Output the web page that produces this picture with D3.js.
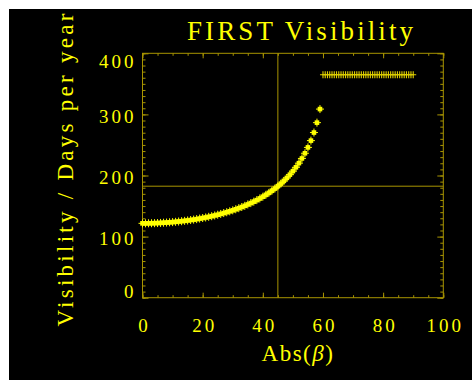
<!DOCTYPE html>
<meta charset="utf-8">
<script src="https://d3js.org/d3.v7.min.js"></script>
<style>
  svg text { font-family: "Liberation Serif", "DejaVu Serif", serif; }
</style>
<body style="margin:0;background:#fff;">
<div id="chart"></div>
<script>

// data
var curveBeta = [0,1,2,3,4,5,6,7,8,9,10,11,12,13,14,15,16,17,18,19,20,21,22,23,24,25,26,27,28,29,
  30,31,32,33,34,35,36,37,38,39,40,41,42,43,44,45,46,47,48,49,50,51,52,53,54,55,56,57,58,59];
var curveDays = [121.7,121.7,121.8,121.9,122.0,122.2,122.4,122.7,123.0,123.4,
  123.7,124.2,124.7,125.2,125.8,126.4,127.1,127.8,128.6,129.5,
  130.4,131.3,132.4,133.4,134.6,135.8,137.1,138.5,139.9,141.4,
  143.0,144.7,146.5,148.4,150.4,152.6,154.8,157.2,159.7,162.4,
  165.2,168.3,171.5,175.0,178.6,182.5,186.7,191.2,196.1,201.4,
  207.1,213.4,220.2,227.9,236.4,246.0,257.1,270.3,286.5,308.7];
var flatBeta = [60,60.75,61.5,62.25,63,63.75,64.5,65.25,66,66.75,67.5,68.25,69,69.75,70.5,71.25,
  72,72.75,73.5,74.25,75,75.75,76.5,77.25,78,78.75,79.5,80.25,81,81.75,82.5,83.25,
  84,84.75,85.5,86.25,87,87.75,88.5,89.25,90];
var flatDays = [365,365,365,365,365,365,365,365,365,365,365,365,365,365,365,365,
  365,365,365,365,365,365,365,365,365,365,365,365,365,365,365,365,
  365,365,365,365,365,365,365,365,365];
var xTicks = [0,20,40,60,80,100];
var yTicks = [0,100,200,300,400];
var refBeta = 45, refDays = 182.5;

var W = 472, H = 381;
var box = {left: 142.5, right: 443.3, top: 53.3, bottom: 297.7};
var yellow = "#ffff00", olive = "#a89400";

var svg = d3.select("#chart").append("svg")
  .attr("width", W).attr("height", H);

svg.append("rect").attr("x", 9).attr("y", 9)
  .attr("width", W - 9).attr("height", H - 10).attr("fill", "#000");

var x = d3.scaleLinear().domain([0, 100]).range([box.left, box.right]);
var y = d3.scaleLinear().domain([0, 400]).range([box.bottom, box.top]);

// axes, ticks pointing inward on all four sides
function styleAxis(g) {
  g.select(".domain").remove();
  g.selectAll("line").attr("stroke", olive);
}
var minorX = d3.range(0, 101, 5), minorY = d3.range(0, 401, 10);

svg.append("g").attr("transform", "translate(0," + box.bottom + ")")
  .call(d3.axisBottom(x).tickValues(minorX).tickSize(-2.5).tickFormat(""))
  .call(styleAxis);
svg.append("g").attr("transform", "translate(0," + box.top + ")")
  .call(d3.axisTop(x).tickValues(minorX).tickSize(-2.5).tickFormat(""))
  .call(styleAxis);
svg.append("g").attr("transform", "translate(" + box.left + ",0)")
  .call(d3.axisLeft(y).tickValues(minorY).tickSize(-3).tickFormat(""))
  .call(styleAxis);
svg.append("g").attr("transform", "translate(" + box.right + ",0)")
  .call(d3.axisRight(y).tickValues(minorY).tickSize(-3).tickFormat(""))
  .call(styleAxis);

var xAxis = svg.append("g").attr("transform", "translate(0," + box.bottom + ")")
  .call(d3.axisBottom(x).tickValues(xTicks).tickSize(-5).tickFormat(d3.format("d")))
  .call(styleAxis);
svg.append("g").attr("transform", "translate(0," + box.top + ")")
  .call(d3.axisTop(x).tickValues(xTicks).tickSize(-5).tickFormat(""))
  .call(styleAxis);
var yAxis = svg.append("g").attr("transform", "translate(" + box.left + ",0)")
  .call(d3.axisLeft(y).tickValues(yTicks).tickSize(-6).tickPadding(6).tickFormat(d3.format("d")))
  .call(styleAxis);
svg.append("g").attr("transform", "translate(" + box.right + ",0)")
  .call(d3.axisRight(y).tickValues(yTicks).tickSize(-6).tickFormat(""))
  .call(styleAxis);

// d3 axes set font-family on the group, so take it off again
svg.selectAll("g").attr("font-family", null).attr("font-size", null);

xAxis.selectAll("text")
  .attr("y", 0).attr("dy", 34).attr("dx", 1.5)
  .attr("fill", yellow).style("font-size", "19px")
  .style("letter-spacing", "3px");
yAxis.selectAll("text")
  .attr("dy", function(d) { return d == 400 ? 13.8 : d == 0 ? -0.6 : 8; })
  .attr("fill", yellow).style("font-size", "19px")
  .style("letter-spacing", "3px");

// frame
svg.append("rect")
  .attr("x", box.left).attr("y", box.top)
  .attr("width", box.right - box.left).attr("height", box.bottom - box.top)
  .attr("fill", "none").attr("stroke", olive).attr("stroke-width", 1);

// reference lines
svg.append("line")
  .attr("x1", x(refBeta)).attr("x2", x(refBeta))
  .attr("y1", box.top).attr("y2", box.bottom)
  .attr("stroke", olive);
svg.append("line")
  .attr("x1", box.left).attr("x2", box.right)
  .attr("y1", y(refDays)).attr("y2", y(refDays))
  .attr("stroke", olive);

// curve points: square with a plus on top
var curve = curveBeta.map(function(b, i) { return [b, curveDays[i]]; });
var pts = svg.append("g");
pts.selectAll("rect.sq").data(curve).enter().append("rect")
  .attr("class", "sq")
  .attr("x", function(d) { return x(d[0]) - 2.3; })
  .attr("y", function(d) { return y(d[1]) - 2.3; })
  .attr("width", 4.6).attr("height", 4.6)
  .attr("fill", yellow);
pts.selectAll("path.pl").data(curve).enter().append("path")
  .attr("class", "pl")
  .attr("d", function(d) {
    var cx = x(d[0]), cy = y(d[1]);
    return "M" + (cx - 4) + "," + cy + "H" + (cx + 4) + "M" + cx + "," + (cy - 4) + "V" + (cy + 4);
  })
  .attr("stroke", yellow).attr("stroke-width", 1);

// flat part: plus symbols
var flat = flatBeta.map(function(b, i) { return [b, flatDays[i]]; });
svg.append("g").selectAll("path").data(flat).enter().append("path")
  .attr("d", function(d) {
    var cx = x(d[0]), cy = y(d[1]);
    return "M" + (cx - 3) + "," + cy + "H" + (cx + 3) + "M" + cx + "," + (cy - 3.5) + "V" + (cy + 3.5);
  })
  .attr("stroke", "#e0d000").attr("stroke-width", 1.1);

// titles
svg.append("text")
  .attr("x", 187).attr("y", 39.5)
  .attr("textLength", 226).attr("lengthAdjust", "spacing")
  .attr("fill", yellow).style("font-size", "27px")
  .text("FIRST Visibility");

svg.append("text")
  .attr("transform", "translate(72.5,170) rotate(-90)")
  .attr("text-anchor", "middle")
  .attr("textLength", 313).attr("lengthAdjust", "spacing")
  .attr("fill", yellow).style("font-size", "23px")
  .text("Visibility / Days per year");

var xt = svg.append("text")
  .attr("x", 298).attr("y", 360.7)
  .attr("text-anchor", "middle")
  .attr("fill", yellow).style("font-size", "23px")
  .style("letter-spacing", "1.5px");
xt.append("tspan").text("Abs(");
xt.append("tspan").style("font-style", "italic").text("β");
xt.append("tspan").text(")");

</script>
